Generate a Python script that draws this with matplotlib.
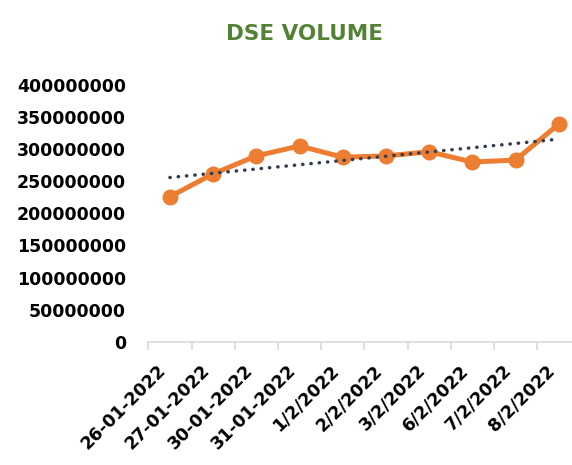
import numpy as np
import matplotlib
matplotlib.use("Agg")
import matplotlib.pyplot as plt
from matplotlib.ticker import FixedLocator

dates = ["26-01-2022", "27-01-2022", "30-01-2022", "31-01-2022", "1/2/2022",
         "2/2/2022", "3/2/2022", "6/2/2022", "7/2/2022", "8/2/2022"]
volume = [226e6, 261.5e6, 289.5e6, 305e6, 287.5e6, 289.5e6, 296e6, 280e6, 283e6, 339e6]
yticks = [0, 50e6, 100e6, 150e6, 200e6, 250e6, 300e6, 350e6, 400e6]
title = "DSE VOLUME"

plt.rcParams['font.family'] = ['DejaVu Sans']

fig = plt.figure(figsize=(5.72, 4.65), dpi=100)
ax = fig.add_axes([148.3 / 572, (465 - 341.7) / 465, 432 / 572, (341.7 - 85) / 465])

x = np.arange(len(dates))
ax.plot(x, volume, color="#ED7D31", lw=3.6, marker="o", markersize=10.5,
        solid_capstyle="round", solid_joinstyle="round", zorder=3)

coef = np.polyfit(x, volume, 1)
trend = np.polyval(coef, x)
ax.plot(x, trend, color="#333F50", lw=2.5, linestyle=(0, (0.1, 2.3)),
        dash_capstyle="round", zorder=4)

ax.set_xlim(-0.5, len(dates) - 0.5)
ax.set_ylim(0, 400e6)

for s in ["top", "right", "left"]:
    ax.spines[s].set_visible(False)
ax.spines["bottom"].set_color("#D9D9D9")
ax.spines["bottom"].set_linewidth(1.2)

ax.set_yticks(yticks)
ax.set_yticklabels([f"{int(v)}" for v in yticks], fontsize=12.5, fontweight="bold")
ax.tick_params(axis="y", length=0, pad=16)

ax.xaxis.set_major_locator(FixedLocator(np.arange(-0.5, len(dates), 1.0)))
ax.xaxis.set_major_formatter(plt.NullFormatter())
ax.tick_params(axis="x", which="major", length=5.5, width=1.2, color="#D9D9D9")
ax.set_xticks(x, minor=True)
ax.set_xticklabels(dates, minor=True, fontsize=12.5, fontweight="bold",
                   rotation=45, ha="right", va="top")
ax.tick_params(axis="x", which="minor", length=0, pad=14)

fig.text(304.5 / 572, 1 - 34 / 465, title, ha="center", va="center",
         fontsize=15.5, fontweight="bold", color="#548235")

fig.savefig("out.png", dpi=100)
